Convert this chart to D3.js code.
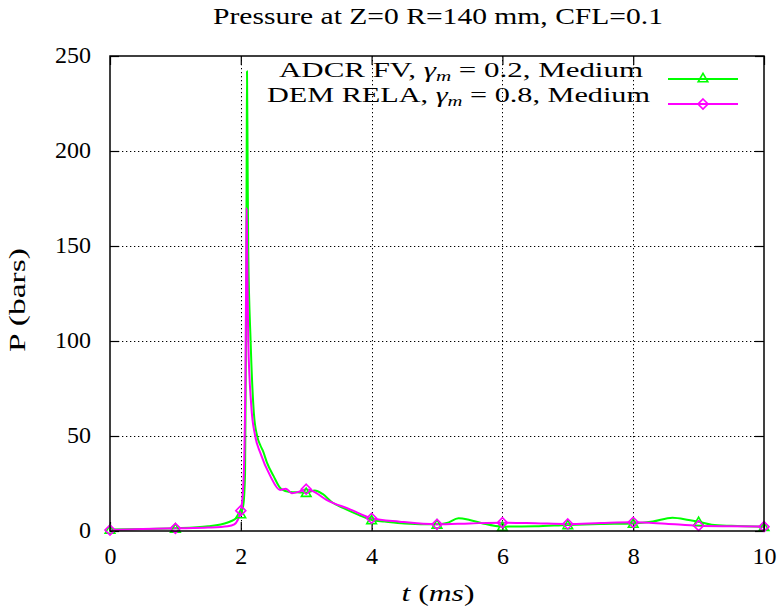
<!DOCTYPE html>
<html>
<head>
<meta charset="utf-8">
<script src="https://cdn.jsdelivr.net/npm/d3@7"></script>
<style>
  html, body { margin: 0; padding: 0; background: #fff; }
  svg { display: block; }
  text { font-family: "Liberation Serif", "Times New Roman", serif; fill: #000; }
</style>
</head>
<body>
<svg id="chart" width="778" height="610"></svg>
<script>
// ---- data ----
const tGreen = [0, 0.5, 1, 1.5, 1.8, 1.9, 2, 2.04, 2.065, 2.08, 2.09, 2.095, 2.105, 2.114, 2.15, 2.2, 2.25, 2.3, 2.34, 2.4, 2.5, 2.62, 2.75, 2.9, 3, 3.13, 3.25, 3.4, 3.57, 3.8, 4, 4.2, 4.5, 5, 5.15, 5.33, 5.5, 5.7, 6, 6.5, 7, 7.5, 8, 8.3, 8.6, 8.85, 9, 9.2, 9.5, 10];
const pGreen = [0.8, 1.0, 1.4, 2.5, 4.5, 6, 9, 14, 30, 100, 200, 242, 190, 148, 100, 62, 50, 45, 42, 36, 29, 22, 20.5, 20.3, 20.2, 21.3, 19.5, 15, 12, 8.5, 5.8, 5.0, 4.0, 3.5, 4.2, 6.7, 5.8, 4.0, 2.3, 2.5, 3.2, 3.7, 4.0, 5.0, 7.0, 5.8, 4.9, 3.3, 2.7, 2.3];
const tMagenta = [0, 0.5, 1, 1.5, 1.8, 1.9, 2, 2.04, 2.07, 2.085, 2.09, 2.097, 2.114, 2.16, 2.22, 2.3, 2.45, 2.6, 2.69, 2.78, 2.9, 3, 3.1, 3.31, 3.67, 4, 4.43, 5, 5.5, 6, 6.5, 7, 7.5, 8, 8.5, 9, 9.5, 10];
const pMagenta = [0.5, 1.0, 1.4, 1.8, 2.5, 3.5, 10.7, 25, 80, 150, 170, 148, 100, 66, 50, 41, 29, 21.6, 22.3, 19.9, 20.8, 22, 21, 16.4, 11.4, 6.7, 4.9, 3.5, 4.0, 4.4, 4.1, 3.7, 4.2, 4.6, 3.8, 2.8, 2.5, 2.3];
const markerTimes = [0, 1, 2, 3, 4, 5, 6, 7, 8, 9, 10];
const xTicks = [0, 2, 4, 6, 8, 10];
const yTicks = [0, 50, 100, 150, 200, 250];
const seriesNames = ["ADCR FV", "DEM RELA"];
const gammaValues = ["0.2", "0.8"];
const titleText = "Pressure at Z=0 R=140 mm, CFL=0.1";

// ---- layout ----
const svg = d3.select("#chart");
const L = 110, R = 764, T = 56, B = 531;
const x = d3.scaleLinear().domain([0, 10]).range([L, R]);
const y = d3.scaleLinear().domain([0, 250]).range([B, T]);

const greenData = tGreen.map((t, i) => ({t, p: pGreen[i]}));
const magData = tMagenta.map((t, i) => ({t, p: pMagenta[i]}));

// grid
const grid = svg.append("g").attr("stroke", "#000").attr("stroke-width", 1)
  .attr("stroke-dasharray", "1.3,2.7");
grid.selectAll("line.vx").data(xTicks.filter(d => d > 0 && d < 10)).enter().append("line")
  .attr("x1", d => Math.round(x(d)) + 0.5).attr("x2", d => Math.round(x(d)) + 0.5)
  .attr("y1", T).attr("y2", B);
grid.selectAll("line.hy").data(yTicks.filter(d => d > 0 && d < 250)).enter().append("line")
  .attr("y1", d => Math.round(y(d)) + 0.5).attr("y2", d => Math.round(y(d)) + 0.5)
  .attr("x1", L).attr("x2", R);

// axes
const fs = 24;
const gx = svg.append("g").attr("transform", `translate(0,${B})`)
  .call(d3.axisBottom(x).tickValues(xTicks).tickSizeInner(-9).tickSizeOuter(0).tickPadding(15.5).tickFormat(d3.format("d")));
const gy = svg.append("g").attr("transform", `translate(${L},0)`)
  .call(d3.axisLeft(y).tickValues(yTicks).tickSizeInner(-9).tickSizeOuter(0).tickPadding(19).tickFormat(d3.format("d")));
const gt = svg.append("g").attr("transform", `translate(0,${T})`)
  .call(d3.axisTop(x).tickValues(xTicks).tickSizeInner(-9).tickSizeOuter(0).tickFormat(""));
const gr = svg.append("g").attr("transform", `translate(${R},0)`)
  .call(d3.axisRight(y).tickValues(yTicks).tickSizeInner(-9).tickSizeOuter(0).tickFormat(""));
[gx, gy, gt, gr].forEach(g => {
  g.select(".domain").remove();
  g.selectAll("line").attr("stroke", "#000").attr("stroke-width", 1.2);
  g.selectAll("text").style("font-family", "Liberation Serif").style("font-size", fs + "px").attr("fill", "#000");
});
gy.selectAll("text").attr("dy", "0.26em");

// lines
const line = d3.line().x(d => x(d.t)).y(d => y(d.p)).curve(d3.curveMonotoneX);
svg.append("path").datum(greenData).attr("fill", "none").attr("stroke", "#00ff00")
  .attr("stroke-width", 2).attr("stroke-linejoin", "round").attr("d", line);
svg.append("path").datum(magData).attr("fill", "none").attr("stroke", "#ff00ff")
  .attr("stroke-width", 2).attr("stroke-linejoin", "round").attr("d", line);

// markers
const tri = d3.symbol().type(d3.symbolTriangle).size(40);
const dia = (cx, cy, r) => `M${cx},${cy - r}L${cx + r},${cy}L${cx},${cy + r}L${cx - r},${cy}Z`;
svg.append("g").selectAll("path").data(greenData.filter(d => markerTimes.includes(d.t))).enter().append("path")
  .attr("d", tri).attr("transform", d => `translate(${x(d.t)},${y(d.p) + 1})`)
  .attr("fill", "none").attr("stroke", "#00ff00").attr("stroke-width", 1.6);
svg.append("g").selectAll("path").data(magData.filter(d => markerTimes.includes(d.t))).enter().append("path")
  .attr("d", d => dia(x(d.t), y(d.p), 5))
  .attr("fill", "none").attr("stroke", "#ff00ff").attr("stroke-width", 1.6);

// border
svg.append("rect").attr("x", L).attr("y", T).attr("width", R - L).attr("height", B - T)
  .attr("fill", "none").attr("stroke", "#000").attr("stroke-width", 1.5);

// title
svg.append("text").attr("x", 438).attr("y", 24).attr("text-anchor", "middle")
  .style("font-size", "23px").attr("textLength", 450).attr("lengthAdjust", "spacingAndGlyphs")
  .text(titleText);

// axis labels
const xl = svg.append("text").attr("x", 438).attr("y", 601).attr("text-anchor", "middle")
  .style("font-size", "23px").attr("textLength", 73).attr("lengthAdjust", "spacingAndGlyphs");
xl.append("tspan").style("font-style", "italic").text("t");
xl.append("tspan").text(" (");
xl.append("tspan").style("font-style", "italic").text("ms");
xl.append("tspan").text(")");

svg.append("text").attr("transform", "translate(25,300) rotate(-90)").attr("text-anchor", "middle")
  .style("font-size", "24px").attr("textLength", 104).attr("lengthAdjust", "spacingAndGlyphs")
  .text("P (bars)");

// legend
const legendRows = [
  {name: seriesNames[0], g: gammaValues[0], color: "#00ff00", endX: 643, base: 77, len: 364, ly: 79, mk: "tri"},
  {name: seriesNames[1], g: gammaValues[1], color: "#ff00ff", endX: 650, base: 102, len: 383, ly: 104, mk: "dia"}
];
legendRows.forEach(r => {
  const t = svg.append("text").attr("x", r.endX).attr("y", r.base).attr("text-anchor", "end")
    .style("font-size", "22px").attr("textLength", r.len).attr("lengthAdjust", "spacingAndGlyphs");
  t.append("tspan").text(r.name + ", ");
  t.append("tspan").style("font-style", "italic").text("γ");
  t.append("tspan").style("font-style", "italic").style("font-size", "15px").attr("dy", 4).text("m");
  t.append("tspan").attr("dy", -4).text(" = " + r.g + ", Medium");
  svg.append("line").attr("x1", 668).attr("x2", 738).attr("y1", r.ly).attr("y2", r.ly)
    .attr("stroke", r.color).attr("stroke-width", 2);
  if (r.mk === "tri") {
    svg.append("path").attr("d", tri).attr("transform", `translate(703,${r.ly})`)
      .attr("fill", "none").attr("stroke", r.color).attr("stroke-width", 1.6);
  } else {
    svg.append("path").attr("d", dia(703, r.ly, 5))
      .attr("fill", "none").attr("stroke", r.color).attr("stroke-width", 1.6);
  }
});
</script>
</body>
</html>
